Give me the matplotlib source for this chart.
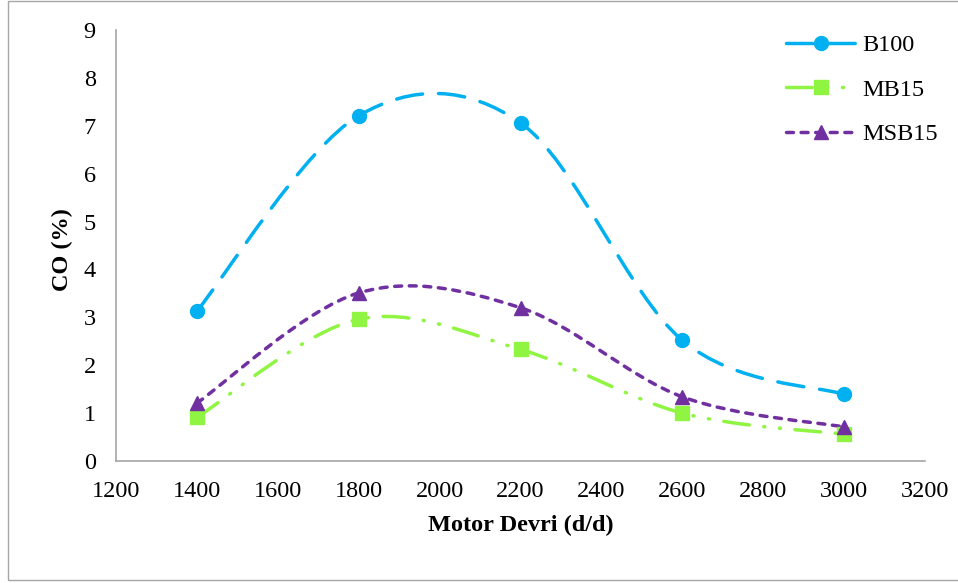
import matplotlib
matplotlib.use("Agg")
import matplotlib.pyplot as plt
from matplotlib.path import Path
from matplotlib.patches import PathPatch, Rectangle
from matplotlib.lines import Line2D
import numpy as np

# ---- data ----
rpm = [1400, 1800, 2200, 2600, 3000]
b100 = [3.13, 7.21, 7.06, 2.52, 1.39]
mb15 = [0.91, 2.96, 2.33, 1.00, 0.56]
msb15 = [1.21, 3.51, 3.20, 1.34, 0.71]
series_names = ["B100", "MB15", "MSB15"]
x_ticks = [1200, 1400, 1600, 1800, 2000, 2200, 2400, 2600, 2800, 3000, 3200]
y_ticks = [0, 1, 2, 3, 4, 5, 6, 7, 8, 9]

plt.rcParams['font.family'] = ['Liberation Serif', 'DejaVu Serif']
plt.rcParams['lines.scale_dashes'] = False

W, H = 958, 583
FS = 17.5
fig = plt.figure(figsize=(W / 100, H / 100), dpi=100)

# outer border
fig.patches.append(Rectangle((7.5 / W, 1 - 579.5 / H), (W + 5) / W, (579.5 - 0.5) / H,
                             transform=fig.transFigure, fill=False,
                             edgecolor='#A6A6A6', lw=1.0))

ax = fig.add_axes([116 / W, (H - 461) / H, (925 - 116) / W, (461 - 30) / H])
ax.set_xlim(1200, 3200)
ax.set_ylim(0, 9)
ax.set_xticks(x_ticks)
ax.set_yticks(y_ticks)
ax.tick_params(length=0, labelsize=FS)
ax.tick_params(axis='y', pad=14.5)
ax.tick_params(axis='x', pad=14.5)
for s in ['top', 'right']:
    ax.spines[s].set_visible(False)
for s in ['left', 'bottom']:
    ax.spines[s].set_color('#A6A6A6')
    ax.spines[s].set_linewidth(1.2)


def smooth_path(xs, ys):
    pts = np.column_stack([xs, ys]).astype(float)
    n = len(pts)
    verts = [pts[0]]
    codes = [Path.MOVETO]
    for i in range(n - 1):
        p0 = pts[i - 1] if i > 0 else pts[i]
        p1 = pts[i]
        p2 = pts[i + 1]
        p3 = pts[i + 2] if i + 2 < n else pts[i + 1]
        c1 = p1 + (p2 - p0) / 6.0
        c2 = p2 - (p3 - p1) / 6.0
        verts += [c1, c2, p2]
        codes += [Path.CURVE4] * 3
    return Path(verts, codes)


lw = 2.5
styles = [
    dict(color='#00B0F0', ls=(0, (19, 11.5)), marker='o', ms=10),
    dict(color='#8FF542', ls=(0, (18.5, 10.5, 0.8, 10.5, 0.8, 10.5)), marker='s', ms=9.5),
    dict(color='#7030A0', ls=(0, (5, 5.5)), marker='^', ms=10),
]
data = [b100, mb15, msb15]

handles = []
for name, ys, st in zip(series_names, data, styles):
    patch = PathPatch(smooth_path(rpm, ys), facecolor='none', edgecolor=st['color'],
                      lw=lw, linestyle=st['ls'], capstyle='round', zorder=2)
    ax.add_patch(patch)
    ax.plot(rpm, ys, linestyle='none', marker=st['marker'], ms=st['ms'],
            color=st['color'], zorder=3)
    handles.append(Line2D([], [], color=st['color'], lw=lw, linestyle=st['ls'],
                          marker=st['marker'], ms=st['ms'], dash_capstyle='round'))

ax.legend(handles, series_names, loc='upper left',
          bbox_to_anchor=(786 / W, 1 - 34 / H), bbox_transform=fig.transFigure,
          frameon=False, fontsize=FS, handlelength=2.85, handletextpad=0.29,
          labelspacing=0.93, borderpad=0, borderaxespad=0)

ax.set_xlabel('Motor Devri (d/d)', fontsize=FS, fontweight='bold')
ax.set_ylabel('CO (%)', fontsize=FS, fontweight='bold')
ax.xaxis.set_label_coords(0.5, -(515 - 461) / 431)
ax.yaxis.set_label_coords((73 - 116) / 809, 0.49)

fig.savefig('out.png', dpi=100)
